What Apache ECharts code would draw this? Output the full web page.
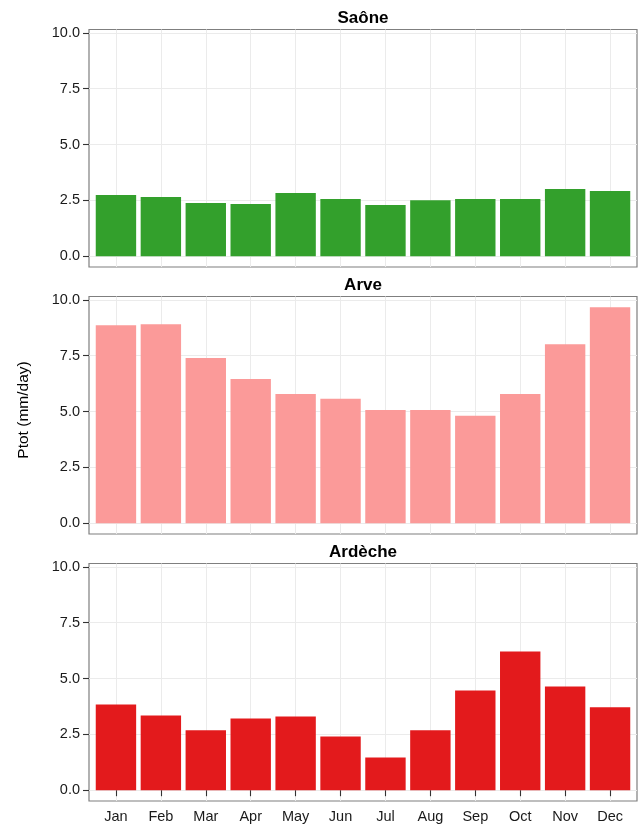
<!DOCTYPE html>
<html>
<head>
<meta charset="utf-8">
<script src="https://cdn.jsdelivr.net/npm/echarts@6/dist/echarts.min.js"></script>
<style>
  html, body { margin: 0; padding: 0; background: #ffffff; }
  #chart { width: 643px; height: 827px; }
</style>
</head>
<body>
<div id="chart"></div>
<script>
// Mean monthly precipitation (mm/day) for three catchments
const months = ['Jan', 'Feb', 'Mar', 'Apr', 'May', 'Jun', 'Jul', 'Aug', 'Sep', 'Oct', 'Nov', 'Dec'];
const saone   = [2.74, 2.65, 2.38, 2.34, 2.83, 2.56, 2.29, 2.51, 2.56, 2.56, 3.01, 2.92];
const arve    = [8.87, 8.91, 7.40, 6.46, 5.79, 5.57, 5.07, 5.07, 4.81, 5.79, 8.02, 9.67];
const ardeche = [3.84, 3.35, 2.68, 3.21, 3.30, 2.41, 1.47, 2.68, 4.46, 6.21, 4.64, 3.71];
const panelNames = ['Saône', 'Arve', 'Ardèche'];
const yTicks = [0, 2.5, 5, 7.5, 10];
const yTitle = 'Ptot (mm/day)';

const panels = [
  { name: panelNames[0], values: saone,   color: '#33a02c' },
  { name: panelNames[1], values: arve,    color: '#fb9a99' },
  { name: panelNames[2], values: ardeche, color: '#e31a1c' }
];

const FONT = "'Liberation Sans', Arial, Helvetica, sans-serif";
const plotLeft = 89, plotWidth = 548, plotHeight = 237.5, panelStep = 267, firstTop = 29.5;
const monthPos = months.map((m, i) => i + 1);

// shared y range: data range padded by 5% on both sides
const allVals = saone.concat(arve, ardeche);
const dMax = Math.max.apply(null, allVals);
const pad = 0.05 * dMax;
const yMin = -pad, yMax = dMax + pad;

const grids = [], xAxes = [], yAxes = [], series = [], titles = [];
panels.forEach((p, k) => {
  const top = firstTop + k * panelStep;
  const last = k === panels.length - 1;
  grids.push({
    left: plotLeft, top: top, width: plotWidth, height: plotHeight,
    show: true, backgroundColor: '#ffffff', borderColor: '#7f7f7f', borderWidth: 1.2,
    containLabel: false
  });
  xAxes.push({
    type: 'value', gridIndex: k, min: 0.4, max: 12.6,
    axisLine: { show: false },
    axisTick: { show: last, customValues: monthPos, length: 6, lineStyle: { color: '#333333', width: 1.1 } },
    axisLabel: {
      show: last, customValues: monthPos, margin: 8,
      formatter: v => months[Math.round(v) - 1] || '',
      color: '#1a1a1a', fontSize: 14.5, fontFamily: FONT
    },
    splitLine: { show: true, lineStyle: { color: '#ebebeb', width: 1 } }
  });
  yAxes.push({
    type: 'value', gridIndex: k, min: yMin, max: yMax,
    axisLine: { show: false },
    axisTick: { show: true, customValues: yTicks, length: 6, lineStyle: { color: '#333333', width: 1.1 } },
    axisLabel: {
      show: true, customValues: yTicks, margin: 9,
      formatter: v => v.toFixed(1),
      color: '#1a1a1a', fontSize: 14.5, fontFamily: FONT
    },
    splitLine: { show: true, lineStyle: { color: '#ebebeb', width: 1 } }
  });
  series.push({
    type: 'bar', name: p.name, xAxisIndex: k, yAxisIndex: k,
    data: p.values.map((v, i) => [monthPos[i], v]),
    barWidth: 40.4,
    itemStyle: { color: p.color },
    silent: true, animation: false
  });
  titles.push({
    text: p.name, left: plotLeft + plotWidth / 2, top: top - 19.5, textAlign: 'center', padding: 0,
    textStyle: { fontSize: 17, fontWeight: 'bold', color: '#000000', fontFamily: FONT, lineHeight: 17 }
  });
});

const chart = echarts.init(document.getElementById('chart'), null, { renderer: 'canvas' });
chart.setOption({
  animation: false,
  backgroundColor: '#ffffff',
  title: titles,
  grid: grids,
  xAxis: xAxes,
  yAxis: yAxes,
  series: series,
  graphic: [{
    type: 'text', x: 24, y: 410, rotation: Math.PI / 2,
    style: {
      text: yTitle, fill: '#000000', font: '15.5px ' + FONT,
      textAlign: 'center', textVerticalAlign: 'middle'
    }
  }]
});
</script>
</body>
</html>
